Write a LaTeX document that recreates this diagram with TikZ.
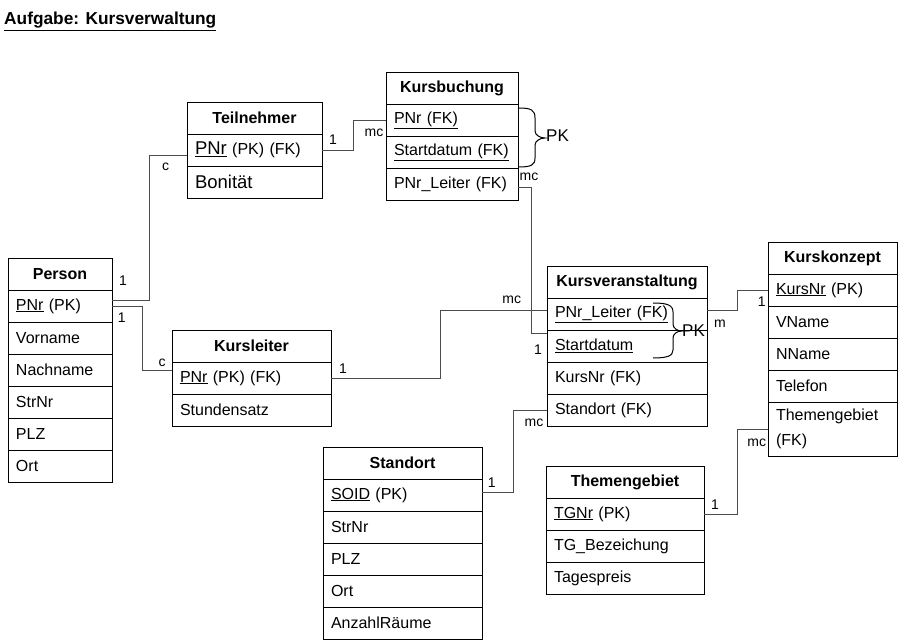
\documentclass[tikz,border=0pt]{standalone}
\usepackage{fontspec}
\setmainfont{Liberation Sans}
\begin{document}
\begin{tikzpicture}[x=1pt,y=-1pt,
  box/.style={draw=black, line width=0.8pt, inner xsep=8pt, inner ysep=0pt, outer sep=0pt,
    minimum height=32pt, anchor=north west, align=left,
    font=\fontsize{16}{19}\selectfont},
  head/.style={box, align=center, font=\fontsize{16}{19}\selectfont\bfseries},
  conn/.style={draw=black!70, line width=0.8pt},
  card/.style={font=\fontsize{14}{16}\selectfont, inner sep=0pt},
  pklabel/.style={font=\fontsize{17}{19}\selectfont, inner sep=0pt, anchor=west},
  pkbrace/.style={draw=black, line width=1pt}
]
\useasboundingbox (0,0) rectangle (905,644);

% title
\node[anchor=base west, inner sep=0pt, font=\fontsize{17.3}{20}\selectfont\bfseries] (title) at (4,25) {\underline{Aufgabe: Kursverwaltung}};

% Person
\node[head, text width=88pt] (p0) at (8,258) {Person};
\node[box, text width=88pt] (p1) at (p0.south west) {\underline{PNr} (PK)};
\node[box, text width=88pt] (p2) at (p1.south west) {Vorname};
\node[box, text width=88pt] (p3) at (p2.south west) {Nachname};
\node[box, text width=88pt] (p4) at (p3.south west) {StrNr};
\node[box, text width=88pt] (p5) at (p4.south west) {PLZ};
\node[box, text width=88pt] (p6) at (p5.south west) {Ort};

% Teilnehmer
\node[head, text width=119pt] (tn0) at (187,102) {Teilnehmer};
\node[box, text width=119pt] (tn1) at (tn0.south west) {{\fontsize{18.5}{20}\selectfont\underline{PNr}} (PK) (FK)};
\node[box, text width=119pt] (tn2) at (tn1.south west) {{\fontsize{18.5}{20}\selectfont Bonität}};

% Kursbuchung
\node[head, text width=116pt] (kb0) at (386,72) {Kursbuchung};
\node[box, text width=116pt] (kb1) at (kb0.south west) {\underline{PNr (FK)}};
\node[box, text width=116pt] (kb2) at (kb1.south west) {\underline{Startdatum (FK)}};
\node[box, text width=116pt] (kb3) at (kb2.south west) {PNr\_Leiter (FK)};

% Kursleiter
\node[head, text width=143pt] (kl0) at (172,330) {Kursleiter};
\node[box, text width=143pt] (kl1) at (kl0.south west) {\underline{PNr} (PK) (FK)};
\node[box, text width=143pt] (kl2) at (kl1.south west) {Stundensatz};

% Kursveranstaltung
\node[head, text width=144pt] (kv0) at (547,266) {Kursveranstaltung};
\node[box, text width=144pt] (kv1) at (kv0.south west) {\underline{PNr\_Leiter (FK)}};
\node[box, text width=144pt] (kv2) at (kv1.south west) {\underline{Startdatum}};
\node[box, text width=144pt] (kv3) at (kv2.south west) {KursNr (FK)};
\node[box, text width=144pt] (kv4) at (kv3.south west) {Standort (FK)};

% Kurskonzept
\node[head, text width=113pt] (kk0) at (768,242) {Kurskonzept};
\node[box, text width=113pt] (kk1) at (kk0.south west) {\underline{KursNr} (PK)};
\node[box, text width=113pt] (kk2) at (kk1.south west) {VName};
\node[box, text width=113pt] (kk3) at (kk2.south west) {NName};
\node[box, text width=113pt] (kk4) at (kk3.south west) {Telefon};
\node[box, text width=113pt, minimum height=54pt, font=\fontsize{16}{25}\selectfont] (kk5) at (kk4.south west) {Themengebiet\\(FK)};

% Standort
\node[head, text width=143pt] (s0) at (323,447) {Standort};
\node[box, text width=143pt] (s1) at (s0.south west) {\underline{SOID} (PK)};
\node[box, text width=143pt] (s2) at (s1.south west) {StrNr};
\node[box, text width=143pt] (s3) at (s2.south west) {PLZ};
\node[box, text width=143pt] (s4) at (s3.south west) {Ort};
\node[box, text width=143pt] (s5) at (s4.south west) {AnzahlRäume};

% Themengebiet
\node[head, text width=142pt] (tg0) at (546,466) {Themengebiet};
\node[box, text width=142pt] (tg1) at (tg0.south west) {\underline{TGNr} (PK)};
\node[box, text width=142pt] (tg2) at (tg1.south west) {TG\_Bezeichung};
\node[box, text width=142pt] (tg3) at (tg2.south west) {Tagespreis};

% connectors
\draw[conn] (tn1.east) -- ++(31,0) |- (kb1.west);
\draw[conn] ([yshift=-3pt]kb3.east) -- ++(13,0) |- ([yshift=13pt]kv2.west);
\draw[conn] (kl1.east) -- ++(109,0) |- ([yshift=4pt]kv1.west);
\draw[conn] ([yshift=6pt]p1.east) -- ++(37,0) |- ([yshift=-5pt]tn1.west);
\draw[conn] (p1.east) -- ++(30,0) |- ([yshift=8pt]kl1.west);
\draw[conn] ([yshift=4pt]kv1.east) -- ++(30,0) |- (kk1.west);
\draw[conn] (tg1.east) -- ++(33,0) |- (kk5.west);
\draw[conn] ([yshift=3pt]s1.east) -- ++(31,0) |- (kv4.west);

% cardinalities
\node[card] (l1) at (333,140) {1};
\node[card] (l2) at (374,133) {mc};
\node[card] (l3) at (165.7,167) {c};
\node[card] (l4) at (123,281) {1};
\node[card] (l5) at (121.7,318) {1};
\node[card] (l6) at (162,363) {c};
\node[card] (l7) at (529,177) {mc};
\node[card] (l8) at (538,350) {1};
\node[card] (l9) at (343,369) {1};
\node[card] (l10) at (511.7,300) {mc};
\node[card] (l11) at (720,324) {m};
\node[card] (l12) at (761.7,301.7) {1};
\node[card] (l13) at (756.7,443.3) {mc};
\node[card] (l14) at (715,505) {1};
\node[card] (l15) at (491.7,482.7) {1};
\node[card] (l16) at (534,422.7) {mc};

% PK braces
\draw[pkbrace] (519,108) .. controls (531,108) and (535,110) .. (535,118) -- (535,131)
  .. controls (535,135) and (540,138) .. (545,138)
  .. controls (540,138) and (535,141) .. (535,145) -- (535,158)
  .. controls (535,165) and (531,167) .. (519,167);
\node[pklabel] (pk1) at (546,136) {PK};
\draw[pkbrace] (653,303) .. controls (667,303) and (673,305) .. (673,312) -- (673,324)
  .. controls (673,328) and (677,331) .. (682,331)
  .. controls (677,331) and (673,334) .. (673,338) -- (673,350)
  .. controls (673,356) and (667,358) .. (653,358);
\node[pklabel] (pk2) at (682,331) {PK};
\end{tikzpicture}
\end{document}
